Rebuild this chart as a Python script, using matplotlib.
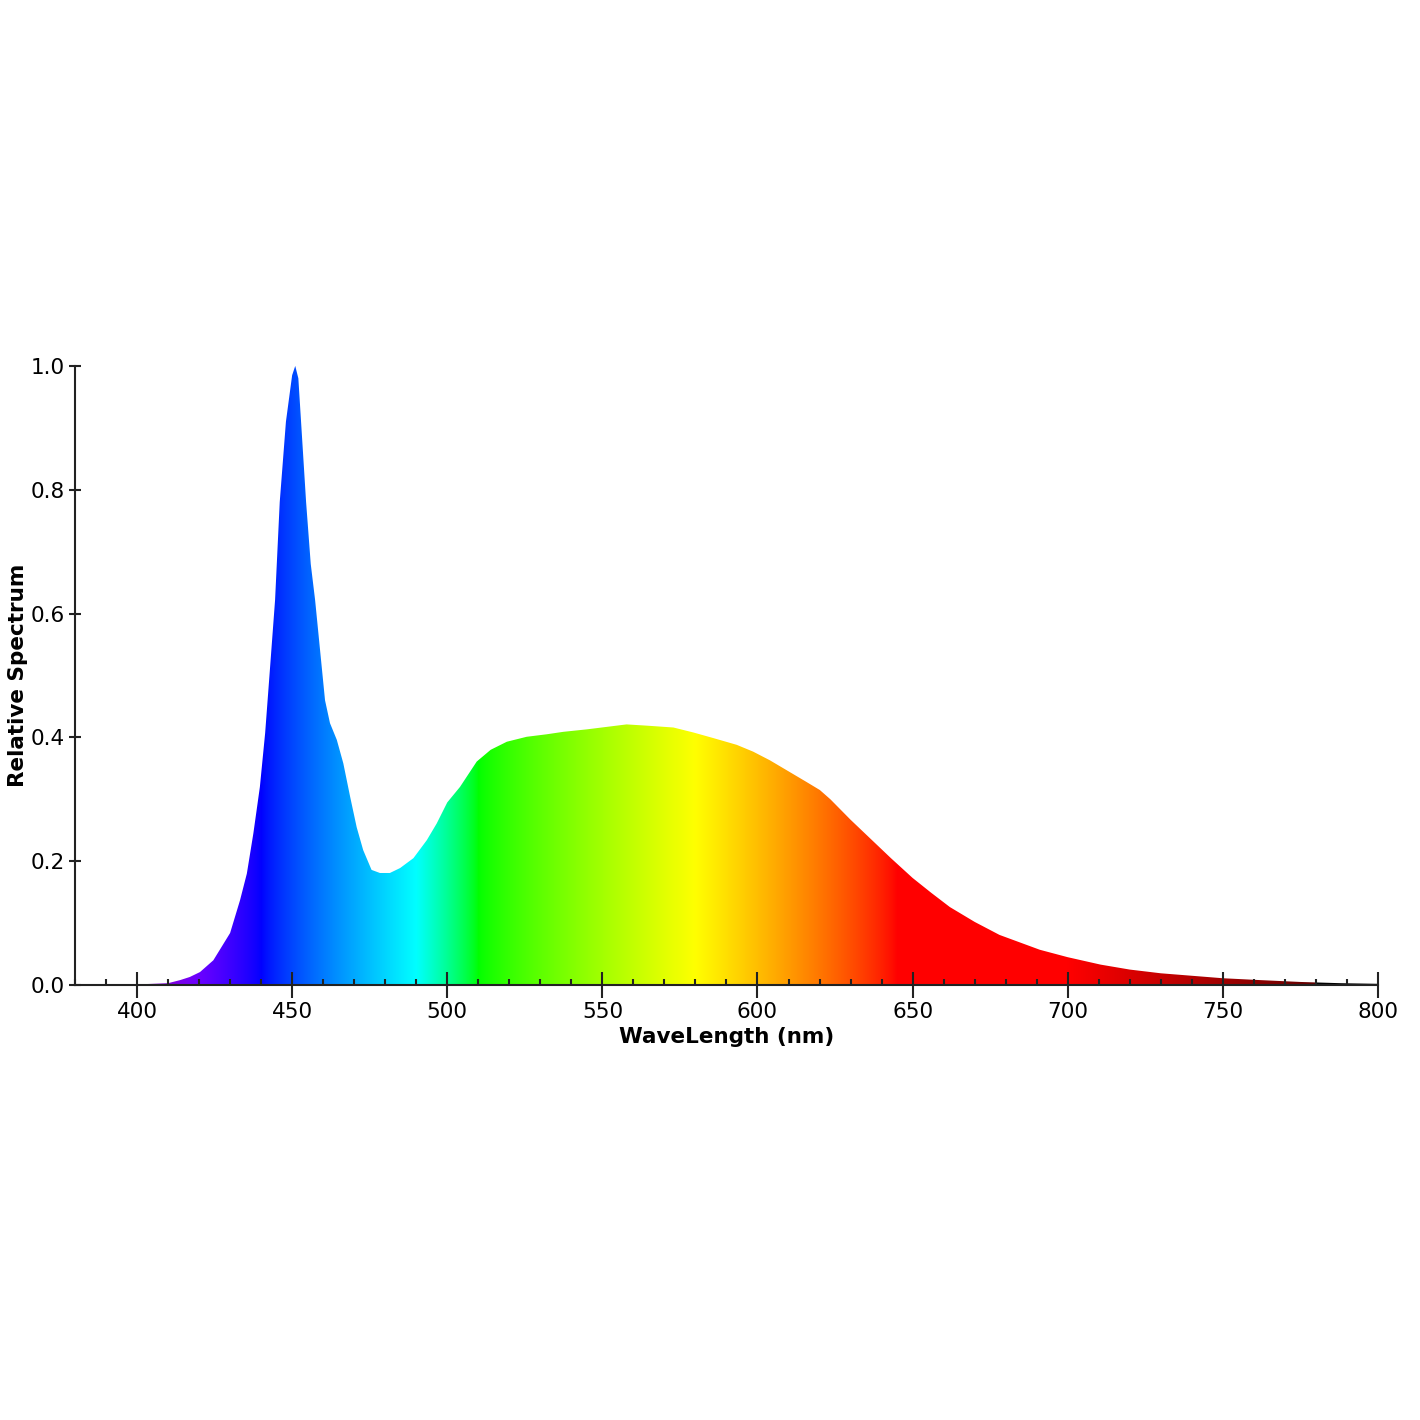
import numpy as np
import matplotlib
matplotlib.use('Agg')
import matplotlib.pyplot as plt
from matplotlib.ticker import MultipleLocator, FormatStrFormatter

# spectrum
wavelength = [380, 390, 400, 405, 410, 413.9, 417, 420.3, 424.6, 430, 433.2, 435.4, 437.5,
              439.6, 441.3, 442.9, 444.5, 446, 448, 450, 451, 452, 453, 454.5, 456, 457.4,
              459, 460.6, 462.2, 464.4, 466.5, 468.7, 470.8, 472.9, 475.6, 478.3, 481.5,
              484.8, 489.1, 493.4, 496.6, 500, 504.1, 509.5, 514, 519.2, 525.6, 532, 537.4,
              545, 551.4, 557.8, 564.3, 572.9, 579.3, 585.7, 593.3, 598.6, 604, 609.4, 615.8,
              620.1, 623.5, 630, 636.5, 643, 650, 656, 662, 670, 678, 691, 700, 710.6, 720,
              730, 740, 750, 762, 775, 788, 800]
spectrum = [0.0, 0.001, 0.001, 0.002, 0.003, 0.008, 0.013, 0.021, 0.04, 0.084, 0.137, 0.18,
            0.245, 0.32, 0.407, 0.514, 0.622, 0.78, 0.91, 0.985, 1.0, 0.98, 0.9, 0.78, 0.68,
            0.622, 0.541, 0.46, 0.423, 0.396, 0.358, 0.304, 0.255, 0.218, 0.186, 0.181, 0.181,
            0.189, 0.205, 0.234, 0.261, 0.295, 0.32, 0.361, 0.38, 0.393, 0.401, 0.405, 0.409,
            0.413, 0.417, 0.421, 0.419, 0.416, 0.408, 0.399, 0.388, 0.377, 0.363, 0.347, 0.328,
            0.315, 0.3, 0.267, 0.236, 0.205, 0.173, 0.149, 0.126, 0.102, 0.081, 0.057, 0.045,
            0.033, 0.025, 0.019, 0.015, 0.011, 0.008, 0.005, 0.003, 0.002]


def wl_to_rgb(w):
    w = np.asarray(w, dtype=float)
    r = np.zeros_like(w); g = np.zeros_like(w); b = np.zeros_like(w)
    m = (w >= 380) & (w < 440); r[m] = (440 - w[m]) / 60; b[m] = 1
    m = (w >= 440) & (w < 490); g[m] = (w[m] - 440) / 50; b[m] = 1
    m = (w >= 490) & (w < 510); g[m] = 1; b[m] = (510 - w[m]) / 20
    m = (w >= 510) & (w < 580); r[m] = (w[m] - 510) / 70; g[m] = 1
    m = (w >= 580) & (w < 645); r[m] = 1; g[m] = (645 - w[m]) / 65
    m = (w >= 645) & (w <= 780); r[m] = 1
    f = np.ones_like(w)
    m = w < 420; f[m] = 0.3 + 0.7 * (w[m] - 380) / 40
    m = w > 700; f[m] = 0.3 + 0.7 * (780 - w[m]) / 80
    f[w > 780] = 0
    f = np.clip(f, 0, 1)
    rgb = np.stack([r, g, b], axis=-1) * f[:, None]
    return np.clip(rgb, 0, 1) ** 0.8


fig = plt.figure(figsize=(14.2, 14.2), dpi=100)
ax = fig.add_axes([0.0528, 0.3063, 0.9176, 0.436])

poly = ax.fill_between(wavelength, spectrum, 0, color='none', lw=0)
grid = np.linspace(380, 800, 1200)
img = wl_to_rgb(grid)[None, :, :]
im = ax.imshow(img, extent=[380, 800, 0, 1], aspect='auto', origin='lower', interpolation='bilinear')
im.set_clip_path(poly.get_paths()[0], transform=ax.transData)

ax.set_xlim(380, 800)
ax.set_ylim(0, 1)
ax.set_xticks(range(400, 801, 50))
ax.xaxis.set_minor_locator(MultipleLocator(10))
ax.yaxis.set_major_locator(MultipleLocator(0.2))
ax.yaxis.set_major_formatter(FormatStrFormatter('%.1f'))

for s in ['top', 'right']:
    ax.spines[s].set_visible(False)
for s in ['left', 'bottom']:
    ax.spines[s].set_linewidth(1.5)
    ax.spines[s].set_color('#222222')

ax.tick_params(axis='x', which='major', direction='inout', length=19, width=1.5,
               labelsize=15.5, pad=3, color='#222222')
ax.tick_params(axis='x', which='minor', direction='in', length=4, width=1.5, color='#222222')
ax.tick_params(axis='y', which='major', direction='inout', length=9, width=1.5,
               labelsize=15.5, pad=3, color='#222222')

ax.set_xlabel('WaveLength (nm)', fontsize=15.5, fontweight='bold', labelpad=3)
ax.set_ylabel('Relative Spectrum', fontsize=15.5, fontweight='bold', labelpad=1.5)

fig.savefig('out.png', dpi=100)
